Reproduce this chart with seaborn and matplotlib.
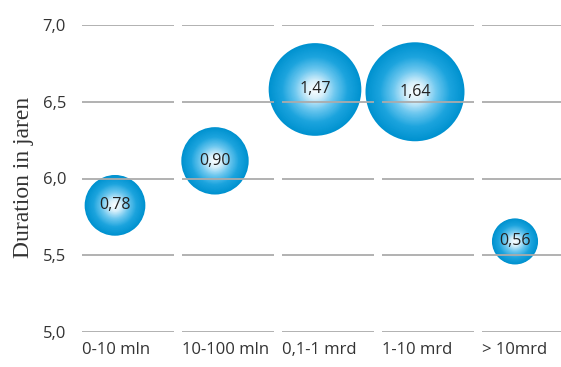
import numpy as np
import pandas as pd
import seaborn as sns
import matplotlib
matplotlib.use("Agg")
import matplotlib.pyplot as plt
from matplotlib.colors import LinearSegmentedColormap
from matplotlib.ticker import FuncFormatter

# Data
categories = ["0-10 mln", "10-100 mln", "0,1-1 mrd", "1-10 mrd", "> 10mrd"]
duration = [5.825, 6.115, 6.58, 6.565, 5.59]
amount = [0.78, 0.90, 1.47, 1.64, 0.56]
yticks = [5.0, 5.5, 6.0, 6.5, 7.0]

df = pd.DataFrame({"pos": np.arange(len(categories)),
                   "duration": duration,
                   "amount": amount})

sns.set_theme(style="white")
plt.rcParams["font.family"] = ["Open Sans", "DejaVu Sans"]

W, H = 561, 367
fig = plt.figure(figsize=(W / 100, H / 100), dpi=100)
ax = fig.add_axes([82 / W, 35 / H, (W - 82) / W, 307 / H])

# radial shading of the bubbles: white core fading to saturated blue rim
shade = LinearSegmentedColormap.from_list(
    "bubble",
    [(0.0, "#FFFFFF"), (0.2, "#D8F0FB"), (0.45, "#6CC7EF"),
     (0.72, "#1CA4DE"), (1.0, "#0092D0")])

smin, smax = 1100, 5080   # marker area range (pt^2)
n_layers = 45
for k in range(n_layers):
    r = 1 - k / n_layers
    sns.scatterplot(data=df, x="pos", y="duration", size="amount",
                    sizes=(smin * r * r, smax * r * r),
                    color=shade(r), linewidth=0, legend=False,
                    ax=ax, zorder=2, clip_on=False)

# value labels inside the bubbles
for p, d, a in zip(df["pos"], df["duration"], df["amount"]):
    ax.text(p, d, f"{a:.2f}".replace(".", ","), ha="center", va="center",
            fontsize=11.5, color="#222222", zorder=4)

# segmented horizontal grid, one segment per category
for y in yticks:
    for p in df["pos"]:
        ax.hlines(y, p - 0.33, p + 0.59, color="#ABABAB", linewidth=1.3,
                  zorder=3)

ax.set_xlim(-0.33, 4.46)
ax.set_ylim(5.0, 7.0)

ax.set_yticks(yticks)
ax.yaxis.set_major_formatter(FuncFormatter(lambda v, _: f"{v:.1f}".replace(".", ",")))
ax.set_xticks(df["pos"] - 0.33)
ax.set_xticklabels(categories, ha="left")

ax.tick_params(axis="y", length=0, pad=11.5, labelsize=12, labelcolor="#333333")
ax.tick_params(axis="x", length=0, pad=7.5, labelsize=12, labelcolor="#333333")

ax.set_xlabel("")
ax.set_ylabel("Duration in jaren", family=["Liberation Serif", "DejaVu Serif"],
              fontsize=17, color="#333333", va="center")
ax.yaxis.set_label_coords(-0.123, 0.503)

for s in ax.spines.values():
    s.set_visible(False)
ax.grid(False)
ax.set_facecolor("none")

fig.savefig("out.png", dpi=100)
